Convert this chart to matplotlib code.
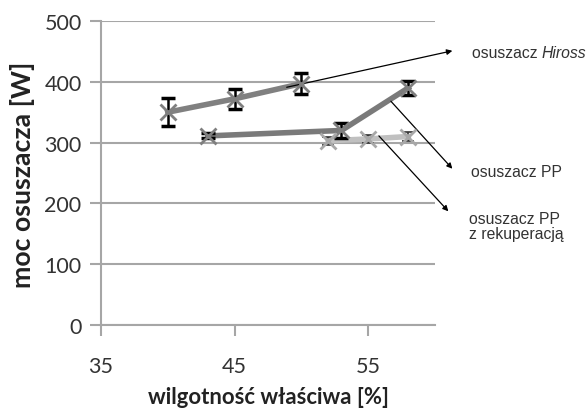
import matplotlib
matplotlib.use("Agg")
import matplotlib.pyplot as plt

# data
x_hiross = [40, 45, 50]
y_hiross = [350, 372, 397]
e_hiross = [23, 16, 17]

x_pp = [43, 53, 58]
y_pp = [311, 320, 390]
e_pp = [4, 12, 12]

x_rec = [52, 55, 58]
y_rec = [303, 306, 310]
e_rec = [7, 7, 8]

x_ticks = [35, 45, 55]
y_ticks = [0, 100, 200, 300, 400, 500]

labels = ["osuszacz Hiross", "osuszacz PP", "osuszacz PP\nz rekuperacją"]
x_label = "wilgotność właściwa [%]"
y_label = "moc osuszacza [W]"

W, H = 588, 410
fig = plt.figure(figsize=(W / 100, H / 100), dpi=100)
ax = fig.add_axes([101 / W, 1 - 326 / H, (435 - 101) / W, (326 - 22) / H])

ax.set_xlim(35, 60)
ax.set_ylim(0, 500)
ax.set_xticks(x_ticks)
ax.set_yticks(y_ticks)
ax.yaxis.grid(True, color="#a6a6a6", linewidth=1.5)
ax.set_axisbelow(True)
for s in ["top", "right"]:
    ax.spines[s].set_visible(False)
for s in ["left", "bottom"]:
    ax.spines[s].set_color("#a6a6a6")
    ax.spines[s].set_linewidth(1.5)
ax.tick_params(axis="both", length=8, width=1.5, color="#a6a6a6",
               labelsize=15.5, labelcolor="#333333", pad=6)
for lab in ax.get_xticklabels() + ax.get_yticklabels():
    lab.set_fontfamily("Lato")
ax.tick_params(axis="x", pad=14)

# Series
ax.plot(x_hiross, y_hiross, color="#808080", lw=4, zorder=3)
ax.errorbar(x_hiross, y_hiross, yerr=e_hiross, fmt="none", ecolor="black",
            elinewidth=1.8, capsize=5, capthick=2.5, zorder=4)
ax.plot(x_hiross, y_hiross, ls="none", marker="x", ms=12, mew=2,
        color="#7f7f7f", zorder=5)

ax.plot(x_pp, y_pp, color="#7a7a7a", lw=4, zorder=3)
ax.errorbar(x_pp, y_pp, yerr=e_pp, fmt="none", ecolor="black",
            elinewidth=1.8, capsize=5, capthick=2.5, zorder=4)
ax.plot(x_pp, y_pp, ls="none", marker="x", ms=12, mew=2,
        color="#7f7f7f", zorder=5)

ax.plot(x_rec, y_rec, color="#c0c0c0", lw=4, zorder=3)
eb = ax.errorbar(x_rec, y_rec, yerr=e_rec, fmt="none", ecolor="#333333",
                 elinewidth=1.2, capsize=4, capthick=1.2, zorder=4)
for lc in eb[2]:
    lc.set_linestyle((0, (2, 2)))
ax.plot(x_rec, y_rec, ls="none", marker="x", ms=12, mew=2,
        color="#a8a8a8", zorder=5)

renderer = fig.canvas.get_renderer()


def fit_size(text, target_px, **kw):
    p = fig.text(0, 0, text, fontsize=10, **kw)
    w = p.get_window_extent(renderer).width
    p.remove()
    return 10 * target_px / w


# axis labels, sized to the reference extents
xfs = fit_size(x_label, 240, family="Lato", fontweight="bold")
yfs = fit_size(y_label, 226, family="Lato", fontweight="bold")
fig.text(268 / W, 1 - 398 / H, x_label, fontsize=xfs, family="Lato",
         fontweight="bold", color="#222222", ha="center", va="center")
fig.text(22.5 / W, 1 - 175 / H, y_label, fontsize=yfs, family="Lato",
         fontweight="bold", color="#222222", ha="center", va="center",
         rotation=90)

# annotations
arrow = dict(arrowstyle="-|>", color="black", lw=0.9, mutation_scale=8,
             shrinkA=0, shrinkB=0)
ax.annotate("", xy=(61.3, 451), xytext=(48.9, 391), arrowprops=arrow,
            annotation_clip=False)
ax.annotate("", xy=(61.3, 257), xytext=(56.7, 368), arrowprops=arrow,
            annotation_clip=False)
ax.annotate("", xy=(61.0, 187), xytext=(55.8, 311), arrowprops=arrow,
            annotation_clip=False)

fs = fit_size(labels[1], 91, family="Liberation Sans")
tf = dict(fontsize=fs, family="Liberation Sans", color="#333333")
t = fig.text(472 / W, 1 - 53 / H, "osuszacz ", va="center", ha="left", **tf)
bb = t.get_window_extent(renderer)
fig.text(bb.x1 / W, 1 - 53 / H, "Hiross", va="center", ha="left",
         style="italic", **tf)
fig.text(471 / W, 1 - 173 / H, labels[1], va="center", ha="left", **tf)
fig.text(469 / W, 1 - 227 / H, labels[2], va="center", ha="left",
         linespacing=1.0, **tf)

fig.savefig("out.png", dpi=100)
